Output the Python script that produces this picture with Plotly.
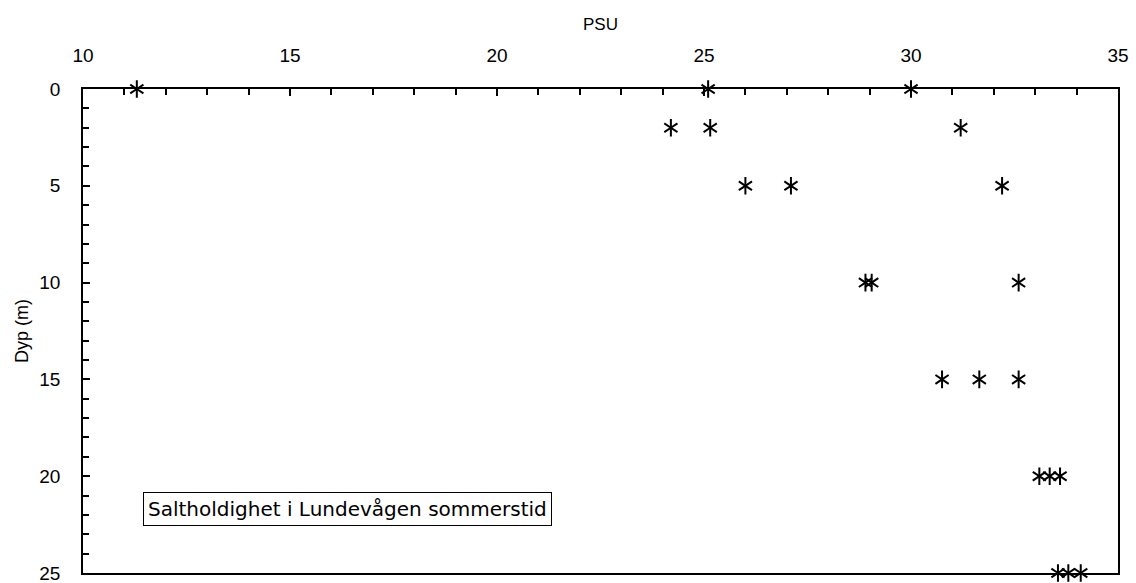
import plotly.graph_objects as go

# Salinity (PSU) readings and their depths (m)
psu = [11.3, 25.1, 30.0,
       24.2, 25.15, 31.2,
       26.0, 27.1, 32.2,
       28.9, 29.05, 32.6,
       30.75, 31.65, 32.6,
       33.1, 33.35, 33.6,
       33.55, 33.8, 34.1]
depth = [0, 0, 0,
         2, 2, 2,
         5, 5, 5,
         10, 10, 10,
         15, 15, 15,
         20, 20, 20,
         25, 25, 25]

x_ticks = [10, 15, 20, 25, 30, 35]
y_ticks = [0, 5, 10, 15, 20, 25]

label_text = "Saltholdighet i Lundevågen sommerstid"

FONT = "Liberation Sans"

fig = go.Figure()
# six-armed asterisk: Y-up + Y-down overlaid
for sym in ("y-up-open", "y-down-open"):
    fig.add_trace(go.Scatter(
        x=psu, y=depth, mode="markers", cliponaxis=False,
        marker=dict(symbol=sym, size=11, color="black",
                    line=dict(color="black", width=2)),
        showlegend=False, hoverinfo="x+y",
    ))

fig.update_layout(
    width=1136, height=583,
    margin=dict(l=83, r=18, t=89, b=10),
    paper_bgcolor="white", plot_bgcolor="white",
    font=dict(family=FONT, color="black"),
)

fig.update_xaxes(
    side="top", range=[10, 35], tickvals=x_ticks, automargin=False,
    ticks="inside", ticklen=7, tickwidth=1.5, tickcolor="black",
    minor=dict(dtick=1, ticks="inside", ticklen=6, tickwidth=1.5, tickcolor="black"),
    showline=True, linecolor="black", linewidth=1.5, mirror=True,
    showgrid=False, zeroline=False, ticklabeloverflow="allow",
    tickfont=dict(family=FONT, size=19), ticklabelstandoff=18,
    title=dict(text="PSU", font=dict(family=FONT, size=17), standoff=10),
)
fig.update_yaxes(
    range=[25, 0], tickvals=y_ticks, automargin=False,
    ticks="inside", ticklen=7, tickwidth=1.5, tickcolor="black",
    minor=dict(dtick=1, ticks="inside", ticklen=6, tickwidth=1.5, tickcolor="black"),
    showline=True, linecolor="black", linewidth=1.5, mirror=True,
    showgrid=False, zeroline=False, ticklabeloverflow="allow",
    tickfont=dict(family=FONT, size=19), ticklabelstandoff=17,
    title=dict(text="Dyp (m)", font=dict(family=FONT, size=18), standoff=6),
)

fig.add_annotation(
    x=11.45, y=21.7, xref="x", yref="y", xanchor="left", yanchor="middle",
    text=label_text, showarrow=False,
    font=dict(family="DejaVu Sans", size=20, color="black"),
    bordercolor="black", borderwidth=1, borderpad=4, bgcolor="white",
)

fig.write_html("out.html", config={"displayModeBar": False},
               post_script="document.body.style.margin='0';document.body.style.overflow='hidden';")
